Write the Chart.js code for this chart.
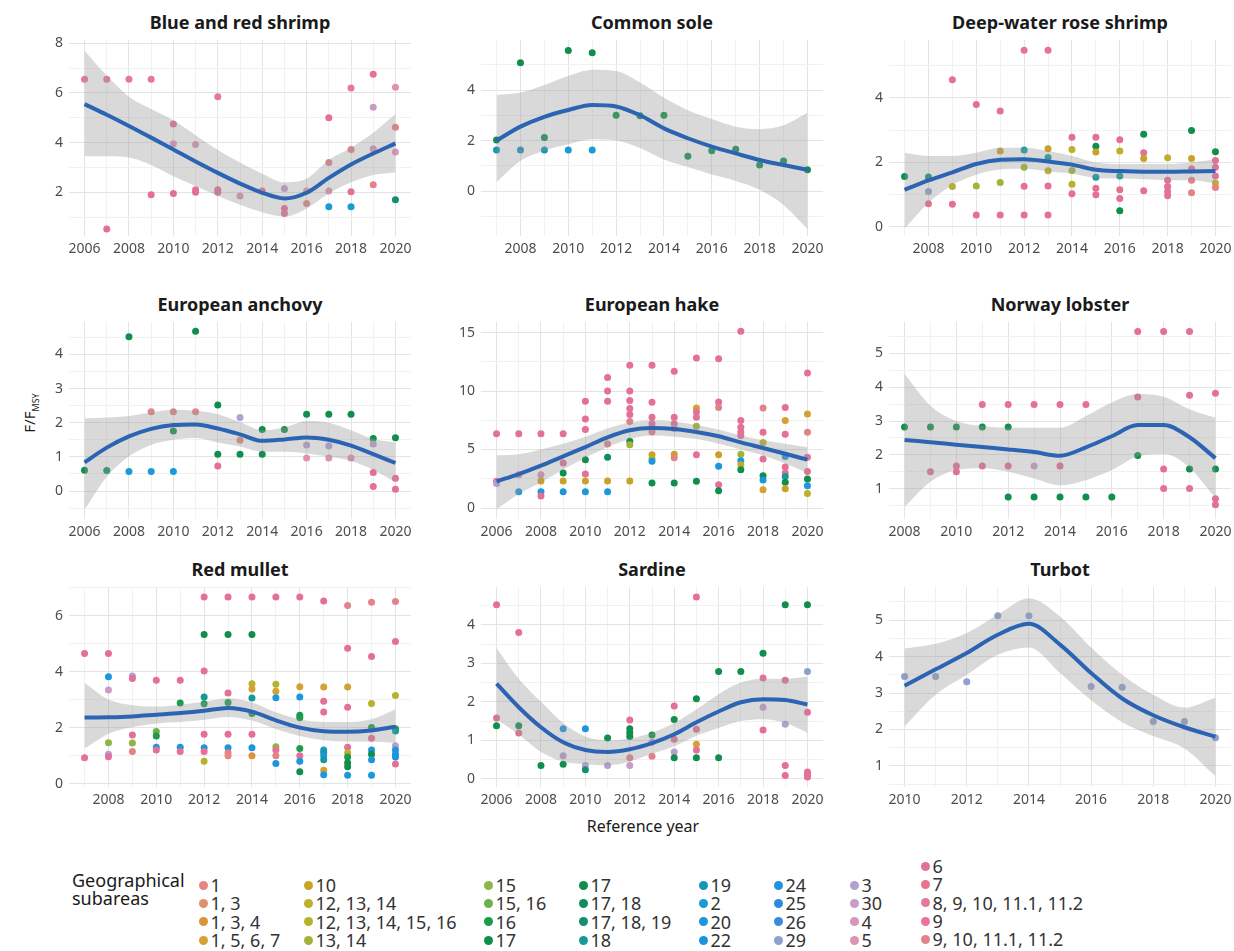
<!DOCTYPE html>
<html>
<head>
<meta charset="utf-8">
<script src="https://cdn.jsdelivr.net/npm/chart.js@4.4.1/dist/chart.umd.min.js"></script>
<style>
  body { margin:0; background:#fff; width:1234px; height:951px; position:relative; overflow:hidden;
         font-family:"Noto Sans", "Open Sans", sans-serif; color:#1a1a1a; }
  .panel { position:absolute; }
  .ptitle { position:absolute; text-align:center; font-weight:bold; font-size:18px; line-height:22px; color:#1a1a1a; }
  #ytitle { position:absolute; left:30px; top:413px; transform:translate(-50%,-50%) rotate(-90deg);
            font-size:15px; white-space:nowrap; color:#1a1a1a; }
  #ytitle sub { font-size:9px; }
  #xtitle { position:absolute; left:643px; top:826px; transform:translate(-50%,-50%); font-size:16px; color:#1a1a1a; }
  #legtitle { position:absolute; left:72px; top:871px; font-size:18px; line-height:18.3px; color:#1a1a1a; }
  .lcol { position:absolute; }
  .litem { height:18.3px; display:flex; align-items:center; font-size:18px; color:#333; white-space:nowrap; }
  .ldot { width:9px; height:9px; border-radius:50%; margin-right:3px; flex:none; }
</style>
</head>
<body>
<div id="ytitle">F/F<sub>MSY</sub></div>
<div id="xtitle">Reference year</div>
<div id="legtitle">Geographical<br>subareas</div>
<script>
const gsaLabels = ['1', '1, 3', '1, 3, 4', '1, 5, 6, 7', '10', '12, 13, 14', '12, 13, 14, 15, 16', '13, 14',
  '15', '15, 16', '16', '17', '17', '17, 18', '17, 18, 19', '18', '19', '2', '20', '22', '24', '25', '26', '29',
  '3', '30', '4', '5', '6', '7', '8, 9, 10, 11.1, 11.2', '9', '9, 10, 11.1, 11.2'];
// colours sampled from the printed legend, same order as gsaLabels
const palette = ['#e8857f', '#e0906a', '#dd9438', '#d6a032', '#c9a227', '#bdb02a', '#b5b32e', '#a3b33a',
  '#8db548', '#6db14b', '#1a9c4a', '#108e4b', '#0e8d4e', '#0e8e5c', '#109070', '#159a9a', '#1596b6',
  '#1a9bd3', '#1c97dc', '#1d93e0', '#258fe0', '#2a8cdf', '#3a8ae0', '#8fa0cf', '#b3a0cf', '#c99cc8',
  '#d895bd', '#de93b1', '#e57096', '#e67390', '#e7789b', '#e87595', '#e2838a'];

const yrs2006 = [2006, 2007, 2008, 2009, 2010, 2011, 2012, 2013, 2014, 2015, 2016, 2017, 2018, 2019, 2020];
const yrs2007 = [2007, 2008, 2009, 2010, 2011, 2012, 2013, 2014, 2015, 2016, 2017, 2018, 2019, 2020];
const yrs2008 = [2008, 2009, 2010, 2011, 2012, 2013, 2014, 2015, 2016, 2017, 2018, 2019, 2020];
const yrs2010 = [2010, 2011, 2012, 2013, 2014, 2015, 2016, 2017, 2018, 2019, 2020];

const xLab2006 = [2006, 2008, 2010, 2012, 2014, 2016, 2018, 2020];
const xLab2008 = [2008, 2010, 2012, 2014, 2016, 2018, 2020];
const xLab2010 = [2010, 2012, 2014, 2016, 2018, 2020];

// points: [year, F/Fmsy, subarea index in gsaLabels]
const shrimpPts = [[2006,6.55,30],[2007,6.55,30],[2007,0.52,28],[2008,6.55,30],[2009,6.55,30],[2009,1.9,28],
  [2010,4.75,29],[2010,3.95,26],[2010,1.95,28],[2011,3.92,26],[2011,2.1,29],[2011,2.0,28],
  [2012,5.85,30],[2012,2.1,29],[2012,2.0,28],[2013,1.85,26],[2014,2.05,29],
  [2015,2.15,25],[2015,1.35,28],[2015,1.15,29],[2016,2.05,27],[2016,1.55,32],
  [2017,5.0,28],[2017,3.2,32],[2017,2.05,27],[2017,1.42,17],[2018,6.2,30],[2018,3.72,32],[2018,2.02,28],[2018,1.42,17],
  [2019,6.75,29],[2019,5.42,25],[2019,3.75,26],[2019,2.3,32],[2020,6.23,27],[2020,4.62,32],[2020,3.62,26],[2020,1.7,14]];
const shrimpFit = [5.55, 5.12, 4.67, 4.2, 3.72, 3.24, 2.78, 2.35, 1.98, 1.75, 1.98, 2.58, 3.12, 3.56, 3.97];
const shrimpHi = [7.7, 6.7, 5.85, 5.35, 4.9, 4.3, 3.7, 3.2, 2.75, 2.4, 2.55, 3.3, 3.8, 4.4, 5.15];
const shrimpLo = [3.45, 3.45, 3.4, 3.1, 2.65, 2.25, 1.85, 1.5, 1.2, 1.02, 1.35, 1.95, 2.4, 2.7, 2.8];

const solePts = [[2007,2.02,11],[2007,1.62,16],[2008,5.08,11],[2008,1.62,16],[2009,2.12,11],[2009,1.62,16],
  [2010,5.56,11],[2010,1.62,17],[2011,5.48,11],[2011,1.62,17],[2012,3.0,11],[2013,2.98,11],[2014,3.0,11],
  [2015,1.38,11],[2016,1.6,11],[2017,1.65,11],[2018,1.03,11],[2019,1.19,11],[2020,0.84,11]];
const soleFit = [2.0, 2.55, 2.94, 3.21, 3.41, 3.35, 3.0, 2.48, 2.09, 1.76, 1.49, 1.23, 1.03, 0.84];
const soleHi = [3.8, 3.9, 4.2, 4.55, 4.8, 4.75, 4.3, 3.7, 3.2, 2.85, 2.55, 2.45, 2.6, 3.1];
const soleLo = [0.35, 1.2, 1.6, 1.85, 2.05, 2.0, 1.7, 1.25, 0.95, 0.65, 0.4, 0.05, -0.55, -1.5];

const rosePts = [[2007,1.56,12],[2008,1.55,14],[2008,1.1,23],[2008,0.72,28],
  [2009,4.56,28],[2009,1.25,6],[2009,0.7,28],[2010,3.79,28],[2010,1.27,7],[2010,0.37,28],
  [2011,3.59,28],[2011,2.35,4],[2011,1.38,7],[2011,0.37,28],
  [2012,5.47,29],[2012,2.38,15],[2012,1.85,7],[2012,1.26,28],[2012,0.37,28],
  [2013,5.47,29],[2013,2.42,4],[2013,2.15,15],[2013,1.74,6],[2013,1.27,28],[2013,0.37,28],
  [2014,2.78,28],[2014,2.4,5],[2014,1.75,7],[2014,1.32,5],[2014,1.03,28],
  [2015,2.78,28],[2015,2.5,11],[2015,2.32,4],[2015,1.54,15],[2015,1.2,28],[2015,1.0,28],
  [2016,2.7,28],[2016,2.35,5],[2016,1.58,15],[2016,1.15,28],[2016,0.88,28],[2016,0.5,11],
  [2017,2.87,11],[2017,2.3,28],[2017,2.12,4],[2017,1.12,28],
  [2018,2.14,5],[2018,1.45,28],[2018,1.25,28],[2018,1.1,28],[2018,0.97,28],
  [2019,2.99,11],[2019,2.12,4],[2019,1.8,28],[2019,1.45,32],[2019,1.06,32],
  [2020,2.33,11],[2020,2.06,28],[2020,1.85,28],[2020,1.58,28],[2020,1.36,5],[2020,1.22,32]];
const roseFit = [1.15, 1.44, 1.69, 1.95, 2.08, 2.1, 2.03, 1.93, 1.77, 1.73, 1.71, 1.71, 1.72, 1.73];
const roseHi = [2.3, 2.2, 2.2, 2.3, 2.45, 2.45, 2.35, 2.2, 2.0, 1.95, 1.95, 1.95, 2.0, 2.1];
const roseLo = [-0.05, 0.75, 1.3, 1.62, 1.78, 1.8, 1.72, 1.65, 1.52, 1.5, 1.48, 1.45, 1.45, 1.35];

const anchovyPts = [[2006,0.61,11],[2007,0.6,14],[2008,4.52,11],[2008,0.57,17],[2009,2.32,32],[2009,0.57,17],
  [2010,2.32,32],[2010,1.76,11],[2010,0.57,17],[2011,4.68,11],[2011,2.32,32],
  [2012,2.52,11],[2012,1.08,11],[2012,0.73,28],[2013,2.15,24],[2013,1.49,0],[2013,1.08,11],
  [2014,1.8,11],[2014,1.08,11],[2015,1.8,11],[2016,2.25,11],[2016,1.35,24],[2016,0.97,27],
  [2017,2.25,11],[2017,1.32,24],[2017,0.97,27],[2018,2.25,11],[2018,0.97,27],
  [2019,1.54,11],[2019,1.38,24],[2019,0.54,28],[2019,0.13,28],[2020,1.56,11],[2020,0.37,28],[2020,0.05,28]];
const anchovyFit = [0.84, 1.27, 1.6, 1.82, 1.93, 1.95, 1.83, 1.66, 1.47, 1.51, 1.57, 1.5, 1.33, 1.08, 0.82];
const anchovyHi = [2.12, 2.15, 2.2, 2.3, 2.38, 2.35, 2.25, 2.02, 1.78, 1.86, 2.05, 2.0, 1.78, 1.52, 1.42];
const anchovyLo = [-0.55, 0.42, 1.02, 1.35, 1.5, 1.55, 1.42, 1.3, 1.15, 1.15, 1.1, 1.0, 0.88, 0.62, 0.25];

const hakePts = [[2006,6.35,28],[2006,2.28,28],[2006,2.1,24],[2007,6.35,28],[2007,2.85,27],[2007,1.38,18],
  [2008,6.35,28],[2008,2.85,27],[2008,2.3,4],[2008,1.38,18],[2008,1.02,28],
  [2009,6.35,28],[2009,3.85,28],[2009,3.0,11],[2009,2.3,4],[2009,1.38,18],
  [2010,9.12,28],[2010,7.6,28],[2010,6.7,28],[2010,4.13,11],[2010,2.9,28],[2010,2.3,4],[2010,1.38,18],
  [2011,11.15,28],[2011,10.0,28],[2011,9.12,28],[2011,5.47,32],[2011,4.33,13],[2011,2.3,4],[2011,1.38,18],
  [2012,12.2,28],[2012,10.0,28],[2012,9.2,28],[2012,8.5,28],[2012,8.0,28],[2012,7.4,32],[2012,5.7,11],[2012,5.4,7],[2012,2.3,4],
  [2013,12.2,28],[2013,9.05,28],[2013,7.75,28],[2013,7.2,28],[2013,6.5,32],[2013,4.56,4],[2013,4.2,5],[2013,3.99,18],[2013,2.14,11],
  [2014,11.68,28],[2014,7.75,28],[2014,7.2,28],[2014,6.8,32],[2014,4.6,4],[2014,4.3,32],[2014,2.14,11],
  [2015,12.82,28],[2015,8.55,3],[2015,8.2,28],[2015,7.75,28],[2015,6.98,7],[2015,4.56,28],[2015,2.28,11],
  [2016,12.76,28],[2016,9.06,28],[2016,8.6,32],[2016,4.56,4],[2016,3.56,18],[2016,1.99,28],[2016,1.48,11],
  [2017,15.1,28],[2017,7.49,28],[2017,6.9,28],[2017,6.5,28],[2017,6.2,28],[2017,4.6,7],[2017,4.05,18],[2017,3.7,5],[2017,3.28,11],
  [2018,8.55,32],[2018,6.47,28],[2018,5.6,5],[2018,4.19,28],[2018,2.76,11],[2018,2.4,18],[2018,1.57,3],
  [2019,8.6,28],[2019,7.49,3],[2019,6.3,28],[2019,4.4,18],[2019,3.5,28],[2019,3.0,28],[2019,2.7,15],[2019,2.2,11],[2019,1.65,4],
  [2020,11.54,28],[2020,8.03,3],[2020,6.47,32],[2020,4.33,28],[2020,3.13,28],[2020,2.48,11],[2020,1.9,18],[2020,1.23,5]];
const hakeFit = [2.28, 2.9, 3.62, 4.42, 5.21, 6.04, 6.64, 6.84, 6.75, 6.5, 6.13, 5.61, 5.13, 4.64, 4.13];
const hakeHi = [4.5, 4.6, 5.0, 5.5, 6.1, 6.8, 7.3, 7.5, 7.4, 7.1, 6.7, 6.2, 5.8, 5.5, 5.2];
const hakeLo = [-0.1, 1.2, 2.2, 3.3, 4.3, 5.2, 5.9, 6.2, 6.1, 5.9, 5.5, 5.0, 4.5, 3.8, 3.0];

const lobsterPts = [[2008,2.82,11],[2009,2.82,11],[2009,1.5,28],[2010,2.82,11],[2010,1.67,28],[2010,1.5,28],
  [2011,3.49,28],[2011,2.82,11],[2011,1.67,28],[2012,3.49,28],[2012,2.82,11],[2012,1.67,28],[2012,0.75,11],
  [2013,3.49,28],[2013,1.67,25],[2013,0.75,11],[2014,3.49,28],[2014,1.67,28],[2014,0.75,11],
  [2015,3.49,28],[2015,0.75,11],[2016,0.75,11],[2017,5.65,28],[2017,3.71,28],[2017,1.98,11],
  [2018,5.65,28],[2018,1.58,28],[2018,1.0,28],[2019,5.65,28],[2019,3.76,28],[2019,1.58,11],[2019,1.0,28],
  [2020,3.82,28],[2020,1.58,11],[2020,0.7,28],[2020,0.52,28]];
const lobsterFit = [2.44, 2.37, 2.3, 2.23, 2.16, 2.08, 1.97, 2.22, 2.55, 2.88, 2.88, 2.52, 1.9];
const lobsterHi = [4.4, 3.45, 3.0, 2.85, 2.8, 2.8, 2.8, 3.15, 3.55, 3.8, 3.72, 3.35, 3.1];
const lobsterLo = [0.45, 1.2, 1.55, 1.6, 1.5, 1.3, 1.1, 1.25, 1.55, 1.95, 2.02, 1.62, 0.72];

const mulletPts = [[2007,4.65,28],[2007,0.92,28],
  [2008,4.65,28],[2008,3.82,18],[2008,3.34,25],[2008,1.46,8],[2008,1.05,24],[2008,0.96,28],
  [2009,3.84,24],[2009,3.75,28],[2009,1.74,28],[2009,1.45,8],[2009,1.15,32],
  [2010,3.69,28],[2010,1.86,9],[2010,1.7,10],[2010,1.3,18],[2010,1.2,28],
  [2011,3.69,28],[2011,2.88,10],[2011,1.3,18],[2011,1.15,28],
  [2012,6.66,28],[2012,5.32,11],[2012,4.02,28],[2012,3.09,15],[2012,2.85,10],[2012,1.76,28],[2012,1.28,18],[2012,1.15,28],[2012,0.8,6],
  [2013,6.66,28],[2013,5.32,11],[2013,3.24,28],[2013,2.9,10],[2013,1.76,28],[2013,1.28,18],[2013,1.1,32],[2013,1.0,0],
  [2014,6.66,28],[2014,5.32,11],[2014,3.57,5],[2014,3.38,3],[2014,3.06,15],[2014,2.5,10],[2014,1.76,28],[2014,1.28,18],[2014,1.0,2],
  [2015,6.66,28],[2015,3.55,6],[2015,3.3,3],[2015,3.07,18],[2015,1.32,8],[2015,1.2,28],[2015,1.0,32],[2015,0.72,18],
  [2016,6.66,28],[2016,3.46,3],[2016,3.09,18],[2016,2.44,10],[2016,2.35,10],[2016,1.25,10],[2016,1.0,28],[2016,0.8,18],[2016,0.42,11],
  [2017,6.52,28],[2017,3.45,3],[2017,2.94,28],[2017,2.56,28],[2017,1.2,18],[2017,1.1,15],[2017,1.0,18],[2017,0.85,15],[2017,0.48,3],[2017,0.32,18],
  [2018,6.36,32],[2018,4.83,28],[2018,3.45,3],[2018,2.73,28],[2018,1.3,28],[2018,1.1,5],[2018,0.95,10],[2018,0.75,11],[2018,0.6,11],[2018,0.3,18],
  [2019,6.48,32],[2019,4.54,28],[2019,2.86,6],[2019,2.0,10],[2019,1.62,28],[2019,1.2,18],[2019,1.05,11],[2019,0.85,18],[2019,0.3,18],
  [2020,6.5,32],[2020,5.07,28],[2020,3.15,6],[2020,1.96,10],[2020,1.88,15],[2020,1.35,24],[2020,1.2,18],[2020,1.05,18],[2020,0.95,18],[2020,0.7,28]];
const mulletFit = [2.36, 2.37, 2.4, 2.46, 2.52, 2.6, 2.7, 2.57, 2.26, 2.0, 1.87, 1.85, 1.9, 2.03];
const mulletHi = [3.6, 3.0, 2.8, 2.75, 2.82, 2.92, 3.05, 2.9, 2.55, 2.3, 2.2, 2.2, 2.3, 2.65];
const mulletLo = [1.25, 1.78, 2.02, 2.15, 2.2, 2.28, 2.38, 2.25, 1.95, 1.7, 1.55, 1.5, 1.5, 1.45];

const sardinePts = [[2006,4.52,28],[2006,1.58,28],[2006,1.38,11],[2007,3.8,28],[2007,1.38,11],[2007,1.19,28],
  [2008,0.35,11],[2009,1.3,18],[2009,0.6,24],[2009,0.38,11],[2010,1.3,18],[2010,0.35,24],[2010,0.24,14],
  [2011,1.06,11],[2011,0.35,24],[2012,1.53,28],[2012,1.3,11],[2012,1.2,11],[2012,1.1,11],[2012,0.55,32],[2012,0.35,25],
  [2013,1.14,11],[2013,0.95,24],[2013,0.59,32],[2014,1.89,28],[2014,1.54,11],[2014,1.03,28],[2014,0.7,24],[2014,0.55,11],
  [2015,4.72,28],[2015,2.08,11],[2015,1.29,28],[2015,0.9,3],[2015,0.75,28],[2015,0.55,11],
  [2016,2.79,11],[2016,0.55,11],[2017,2.79,11],[2018,3.26,11],[2018,2.62,28],[2018,1.86,25],[2018,1.27,28],
  [2019,4.52,11],[2019,2.56,28],[2019,1.42,24],[2019,0.35,28],[2019,0.09,28],
  [2020,4.52,11],[2020,2.79,23],[2020,1.73,28],[2020,0.18,28],[2020,0.1,28],[2020,0.05,28]];
const sardineFit = [2.47, 1.86, 1.34, 0.95, 0.75, 0.7, 0.77, 0.93, 1.16, 1.47, 1.75, 1.99, 2.07, 2.05, 1.93];
const sardineHi = [3.4, 2.6, 2.0, 1.45, 1.1, 1.0, 1.05, 1.2, 1.45, 1.8, 2.2, 2.5, 2.6, 2.6, 2.65];
const sardineLo = [1.55, 1.15, 0.7, 0.45, 0.38, 0.35, 0.45, 0.65, 0.85, 1.12, 1.32, 1.5, 1.55, 1.45, 1.2];

const turbotPts = [[2010,3.45,23],[2011,3.45,23],[2012,3.31,23],[2013,5.12,23],[2014,5.12,23],
  [2016,3.18,23],[2017,3.16,23],[2018,2.22,23],[2019,2.22,23],[2020,1.77,23]];
const turbotFit = [3.2, 3.65, 4.1, 4.6, 4.9, 4.33, 3.55, 2.85, 2.39, 2.06, 1.8];
const turbotHi = [4.22, 4.35, 4.65, 5.15, 5.6, 5.1, 4.25, 3.5, 2.95, 2.6, 2.88];
const turbotLo = [2.08, 2.95, 3.5, 4.05, 4.25, 3.55, 2.8, 2.2, 1.82, 1.48, 0.72];

const panels = [
  { title: 'Blue and red shrimp', pts: shrimpPts, yrs: yrs2006, fit: shrimpFit, hi: shrimpHi, lo: shrimpLo, xLab: xLab2006, yLab: [2, 4, 6, 8], yMin: 0.24, yMax: 8.13 },
  { title: 'Common sole', pts: solePts, yrs: yrs2007, fit: soleFit, hi: soleHi, lo: soleLo, xLab: xLab2008, yLab: [0, 2, 4], yMin: -1.78, yMax: 5.98 },
  { title: 'Deep-water rose shrimp', pts: rosePts, yrs: yrs2007, fit: roseFit, hi: roseHi, lo: roseLo, xLab: xLab2008, yLab: [0, 2, 4], yMin: -0.28, yMax: 5.79 },
  { title: 'European anchovy', pts: anchovyPts, yrs: yrs2006, fit: anchovyFit, hi: anchovyHi, lo: anchovyLo, xLab: xLab2006, yLab: [0, 1, 2, 3, 4], yMin: -0.82, yMax: 4.95 },
  { title: 'European hake', pts: hakePts, yrs: yrs2006, fit: hakeFit, hi: hakeHi, lo: hakeLo, xLab: xLab2006, yLab: [0, 5, 10, 15], yMin: -0.94, yMax: 15.9 },
  { title: 'Norway lobster', pts: lobsterPts, yrs: yrs2008, fit: lobsterFit, hi: lobsterHi, lo: lobsterLo, xLab: xLab2008, yLab: [1, 2, 3, 4, 5], yMin: 0.1, yMax: 5.93 },
  { title: 'Red mullet', pts: mulletPts, yrs: yrs2007, fit: mulletFit, hi: mulletHi, lo: mulletLo, xLab: xLab2008, yLab: [0, 2, 4, 6], yMin: -0.12, yMax: 7.02 },
  { title: 'Sardine', pts: sardinePts, yrs: yrs2006, fit: sardineFit, hi: sardineHi, lo: sardineLo, xLab: xLab2006, yLab: [0, 1, 2, 3, 4], yMin: -0.21, yMax: 4.98 },
  { title: 'Turbot', pts: turbotPts, yrs: yrs2010, fit: turbotFit, hi: turbotHi, lo: turbotLo, xLab: xLab2010, yLab: [1, 2, 3, 4, 5], yMin: 0.42, yMax: 5.91 }
];

const colLeft = [69, 481, 889], plotW = 342;
const rowTop = [40, 322, 587], rowH = [196, 197, 200];
const AXW = 50, AXH = 26, PADT = 10, PADR = 14;
const FONT = '"Noto Sans", "Open Sans", sans-serif';
const MAJOR = '#e4e4e4', MINOR = '#f1f1f1';

panels.forEach((p, k) => {
  const col = k % 3, row = Math.floor(k / 3);
  const left = colLeft[col], top = rowTop[row], h = rowH[row];

  const t = document.createElement('div');
  t.className = 'ptitle';
  t.style.left = left + 'px'; t.style.width = plotW + 'px'; t.style.top = (top - 29) + 'px';
  t.textContent = p.title;
  document.body.appendChild(t);

  const wrap = document.createElement('div');
  wrap.className = 'panel';
  wrap.style.left = (left - AXW) + 'px'; wrap.style.top = (top - PADT) + 'px';
  const cv = document.createElement('canvas');
  const W = AXW + plotW + PADR, H = PADT + h + AXH;
  cv.width = W; cv.height = H; cv.style.width = W + 'px'; cv.style.height = H + 'px';
  wrap.appendChild(cv);
  document.body.appendChild(wrap);

  const first = p.yrs[0], last = p.yrs[p.yrs.length - 1];
  const xMin = first - 0.05 * (last - first), xMax = last + 0.05 * (last - first);
  const xGrid = [];
  for (let y = Math.ceil(xMin); y <= Math.floor(xMax); y++) xGrid.push(y);
  const step = p.yLab[1] - p.yLab[0];
  const yGrid = [];
  for (let v = p.yLab[0] - step / 2; v <= p.yMax; v += step / 2) if (v >= p.yMin) yGrid.push(v);

  new Chart(cv, {
    type: 'scatter',
    data: {
      datasets: [
        { type: 'line', data: p.yrs.map((x, i) => ({ x, y: p.fit[i] })), borderColor: '#2c64b4', borderWidth: 4,
          pointRadius: 0, cubicInterpolationMode: 'monotone', fill: false, order: 0 },
        { type: 'line', data: p.yrs.map((x, i) => ({ x, y: p.hi[i] })), borderColor: 'rgba(0,0,0,0)', borderWidth: 1,
          pointRadius: 0, cubicInterpolationMode: 'monotone', fill: '+1', backgroundColor: 'rgba(153,153,153,0.37)', order: 1 },
        { type: 'line', data: p.yrs.map((x, i) => ({ x, y: p.lo[i] })), borderColor: 'rgba(0,0,0,0)', borderWidth: 1,
          pointRadius: 0, cubicInterpolationMode: 'monotone', fill: false, order: 1 },
        { type: 'scatter', data: p.pts.map(q => ({ x: q[0], y: q[1] })), pointBackgroundColor: p.pts.map(q => palette[q[2]]),
          pointBorderWidth: 0, pointBorderColor: 'rgba(0,0,0,0)', pointRadius: 3.5, order: 2 }
      ]
    },
    options: {
      responsive: false,
      animation: false,
      events: [],
      layout: { padding: { top: PADT, right: PADR, left: 0, bottom: 0 } },
      plugins: { legend: { display: false }, tooltip: { enabled: false } },
      scales: {
        x: {
          type: 'linear', min: xMin, max: xMax,
          afterBuildTicks: s => { s.ticks = xGrid.map(v => ({ value: v })); },
          afterFit: s => { s.height = AXH; s.paddingLeft = 0; s.paddingRight = 0; },
          ticks: { autoSkip: false, maxRotation: 0, padding: 5, color: '#4d4d4d', font: { size: 14, family: FONT },
                   callback: v => p.xLab.includes(v) ? String(v) : '' },
          grid: { color: c => p.xLab.includes(c.tick.value) ? MAJOR : MINOR, drawTicks: false, lineWidth: 1 },
          border: { display: false }
        },
        y: {
          type: 'linear', min: p.yMin, max: p.yMax,
          afterBuildTicks: s => { s.ticks = yGrid.map(v => ({ value: v })); },
          afterFit: s => { s.width = AXW; s.paddingTop = 0; s.paddingBottom = 0; },
          ticks: { autoSkip: false, padding: 6, color: '#4d4d4d', font: { size: 14, family: FONT },
                   callback: v => p.yLab.includes(v) ? String(v) : '' },
          grid: { color: c => p.yLab.includes(c.tick.value) ? MAJOR : MINOR, drawTicks: false, lineWidth: 1 },
          border: { display: false }
        }
      }
    }
  });
});

// legend
const legCols = [[0, 4], [4, 8], [8, 12], [12, 16], [16, 20], [20, 24], [24, 28], [28, 33]];
const dotX = [203, 308, 488, 583, 703, 778, 854, 925];
legCols.forEach((r, j) => {
  const c = document.createElement('div');
  c.className = 'lcol';
  c.style.left = (dotX[j] - 4.5) + 'px';
  c.style.top = (j === 7 ? 857 : 876) + 'px';
  for (let i = r[0]; i < r[1]; i++) {
    const it = document.createElement('div');
    it.className = 'litem';
    const d = document.createElement('span');
    d.className = 'ldot';
    d.style.background = palette[i];
    it.appendChild(d);
    it.appendChild(document.createTextNode(gsaLabels[i]));
    c.appendChild(it);
  }
  document.body.appendChild(c);
});
</script>
</body>
</html>
